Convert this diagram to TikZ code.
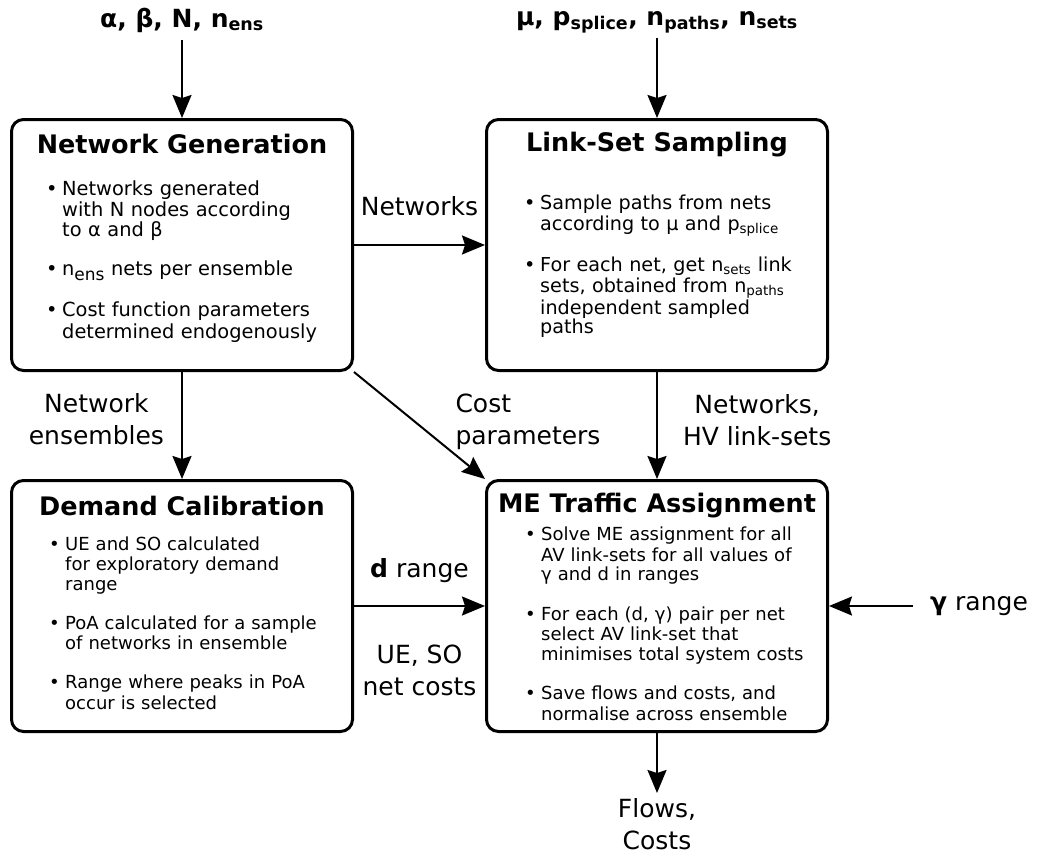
\documentclass[tikz,border=0pt]{standalone}
\usepackage{fontspec}
\setmainfont{DejaVu Sans}
\usetikzlibrary{arrows.meta,positioning}
\setlength{\parskip}{0pt}
\tikzset{%
	stage/.style={draw, line width=3pt, rounded corners=12pt, minimum width=341pt, minimum height=251pt},
	head/.style={anchor=base, inner sep=0pt, font=\fontsize{25.5}{30}\selectfont\bfseries},
	body/.style={anchor=north west, inner sep=0pt, text width=300pt, align=left, font=\fontsize{18}{19.2}\selectfont},
	lbl/.style={inner sep=0pt, align=center, font=\fontsize{25}{32}\selectfont},
	pin/.style={lbl, anchor=base, font=\fontsize{25}{32}\selectfont\bfseries},
	flow/.style={line width=2pt, -{Stealth[length=23pt,width=19pt,inset=3pt]}}
}
\newcommand{\bitem}[1]{\par\hangindent=16pt\hangafter=1\noindent\makebox[16pt][l]{\textbullet}\strut#1\par}
\newcommand{\bgap}[1][20pt]{\vspace{#1}}

\begin{document}
\begin{tikzpicture}[x=1pt, y=-1pt, node distance=107pt and 131pt]
		\useasboundingbox (0,0) rectangle (1041,857);
		
		% stages
		\node[stage] (gen) at (182,245) {};
		\node[stage] (samp) [right=of gen] {};
		\node[stage] (calib) [below=of gen] {};
		\node[stage] (assign) [right=of calib] {};
		
		\node[head] at ([yshift=-35pt]gen.north) {Network Generation};
		\node[head] at ([yshift=-33pt]samp.north) {Link-Set Sampling};
		\node[head] at ([yshift=-36pt]calib.north) {Demand Calibration};
		\node[head] at ([yshift=-33pt]assign.north) {ME Traffic Assignment};
		
		\node[body, font=\fontsize{19.4}{20}\selectfont] at ([xshift=36pt, yshift=-57pt]gen.north west) {%
			\bitem{Networks generated\newline with N nodes according\newline to α and β}\bgap[19pt]
			\bitem{n{\fontsize{17}{20}\selectfont\raisebox{-5pt}{ens}} nets per ensemble}\bgap[19pt]
			\bitem{Cost function parameters\newline determined endogenously}};
		\node[body, font=\fontsize{19.2}{19.3}\selectfont] at ([xshift=39pt, yshift=-72pt]samp.north west) {%
			\bitem{Sample paths from nets\newline according to μ and p\textsubscript{splice}}\bgap[19pt]
			\bitem{For each net, get n\textsubscript{sets} link\newline sets, obtained from n\textsubscript{paths}\newline independent sampled\newline paths}};
		\node[body] at ([xshift=39pt, yshift=-52pt]calib.north west) {%
			\bitem{UE and SO calculated\newline for exploratory demand\newline range}\bgap
			\bitem{PoA calculated for a sample\newline of networks in ensemble}\bgap
			\bitem{Range where peaks in PoA\newline occur is selected}};
		\node[body, font=\fontsize{18}{19.5}\selectfont] at ([xshift=40pt, yshift=-42pt]assign.north west) {%
			\bitem{Solve ME assignment for all\newline AV link-sets for all values of\newline γ and d in ranges}\bgap
			\bitem{For each (d, γ) pair per net\newline select AV link-set that\newline minimises total system costs}\bgap
			\bitem{Save flows and costs, and\newline normalise across ensemble}};
		
		% inputs and outputs
		\node[pin] (genin) at (182,27) {α, β, N, n\textsubscript{ens}};
		\node[pin] (sampin) at (657,25) {μ, p\textsubscript{splice}, n\textsubscript{paths}, n\textsubscript{sets}};
		\node[lbl, anchor=west, right=101pt of assign.east] (gam) {\textbf{γ} range};
		\node[lbl, below=65pt of assign.south] (out) {Flows,\\Costs};
		
		\draw[flow, shorten <=8pt] (genin) -- (gen);
		\draw[flow, shorten <=4pt] (sampin) -- (samp);
		\draw[flow] (gen) -- node[lbl, anchor=base, yshift=30pt] {Networks} (samp);
		\draw[flow] (gen) -- node[lbl, left=17pt, yshift=6pt] {Network\\ensembles} (calib);
		\draw[flow] (gen.south east) -- node[lbl, align=left, anchor=west, xshift=35pt, yshift=4pt] {Cost\\parameters} (assign.north west);
		\draw[flow] (samp) -- node[lbl, anchor=west, xshift=25pt, yshift=5pt] {Networks,\\HV link-sets} (assign);
		\draw[flow] (calib) -- node[lbl, anchor=base, yshift=29pt] {\textbf{d} range}
			node[lbl, anchor=north, yshift=-38pt] {UE, SO\\net costs} (assign);
		\draw[flow, shorten <=17pt] (gam) -- (assign);
		\draw[flow, shorten >=5pt] (assign) -- (out);
	\end{tikzpicture}
\end{document}
